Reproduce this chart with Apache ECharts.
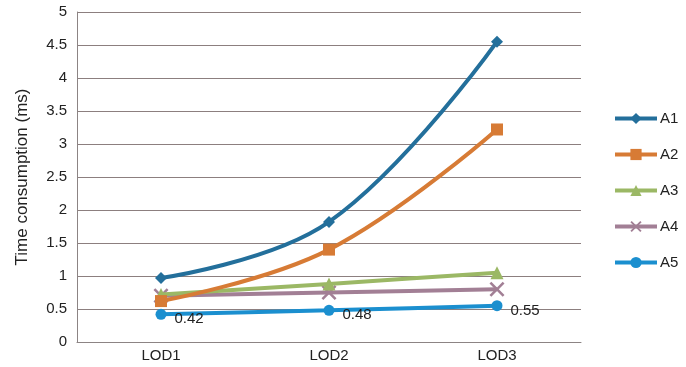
<!DOCTYPE html>
<html><head><meta charset="utf-8">
<script src="https://cdn.jsdelivr.net/npm/echarts@6/dist/echarts.min.js"></script>
<style>html,body{margin:0;padding:0;background:#fff}#c{width:686px;height:367px}</style>
</head><body><div id="c"></div>
<script>
var categories = ['LOD1', 'LOD2', 'LOD3'];
var seriesNames = ['A1', 'A2', 'A3', 'A4', 'A5'];
var A1 = [0.97, 1.82, 4.55];
var A2 = [0.62, 1.40, 3.22];
var A3 = [0.72, 0.88, 1.05];
var A4 = [0.70, 0.75, 0.80];
var A5 = [0.42, 0.48, 0.55];
var yTicks = [0, 0.5, 1, 1.5, 2, 2.5, 3, 3.5, 4, 4.5, 5];

var colors = ['#236f9b', '#d77b35', '#9bb865', '#a27f95', '#1b8fcf'];
var symbols = ['diamond', 'rect', 'triangle',
  'path://M0,1.2L1.2,0L5,3.8L8.8,0L10,1.2L6.2,5L10,8.8L8.8,10L5,6.2L1.2,10L0,8.8L3.8,5Z', 'circle'];
var sizes = [12, 12, 13, 15, 11];
var data = [A1, A2, A3, A4, A5];

var chart = echarts.init(document.getElementById('c'));
var series = seriesNames.map(function (n, i) {
  var s = {
    name: n, type: 'line', data: data[i], smooth: i < 2 ? 0.4 : 0.2,
    symbol: symbols[i], symbolSize: sizes[i], showAllSymbol: true,
    lineStyle: { width: 4, color: colors[i] },
    itemStyle: { color: colors[i] },
    z: 10 - i
  };
  if (i === 4) {
    s.label = { show: true, position: 'right', offset: [3, 5], color: '#222', fontSize: 15, fontFamily: 'Liberation Sans' };
  }
  return s;
});
chart.setOption({
  animation: false,
  color: colors,
  grid: { left: 77, right: 105, top: 12, bottom: 25, containLabel: false },
  legend: {
    orient: 'vertical', left: 608, top: 106, itemWidth: 42, itemHeight: 14, itemGap: 21,
    lineStyle: { width: 4 },
    textStyle: { color: '#222', fontSize: 15, fontFamily: 'Liberation Sans', padding: [0, 0, 0, -2] },
    data: seriesNames
  },
  xAxis: {
    type: 'category', data: categories, boundaryGap: true,
    axisLine: { lineStyle: { color: '#8c8484', width: 1 } },
    axisTick: { show: false },
    axisLabel: { color: '#222', fontSize: 15, fontFamily: 'Liberation Sans', margin: 6 }
  },
  yAxis: {
    type: 'value', min: yTicks[0], max: yTicks[yTicks.length - 1], interval: 0.5,
    name: 'Time consumption (ms)', nameLocation: 'middle', nameGap: 46, nameRotate: 90,
    nameTextStyle: { color: '#222', fontSize: 17, fontFamily: 'Liberation Sans' },
    axisLine: { show: true, lineStyle: { color: '#8c8484', width: 1 } },
    axisTick: { show: false },
    splitLine: { lineStyle: { color: '#8c7f7f', width: 1 } },
    axisLabel: { color: '#222', fontSize: 15, fontFamily: 'Liberation Sans', margin: 10 }
  },
  series: series
});
</script></body></html>
